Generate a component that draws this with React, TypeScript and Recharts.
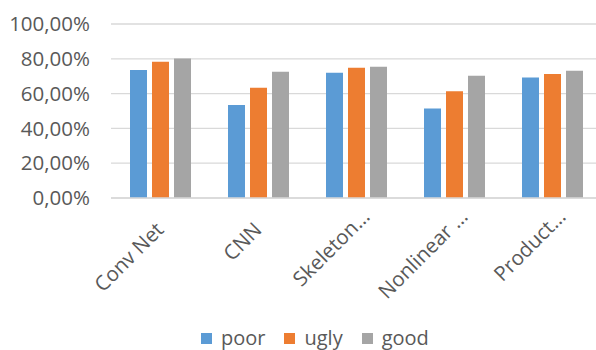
import React from "react";
import { BarChart, Bar, XAxis, YAxis, CartesianGrid, Legend } from "recharts";

const categories = ["Conv Net", "CNN", "Skeleton…", "Nonlinear …", "Product…"];
const poor = [0.735, 0.535, 0.72, 0.514, 0.693];
const ugly = [0.783, 0.634, 0.749, 0.613, 0.713];
const good = [0.802, 0.726, 0.754, 0.703, 0.731];
const yTicks = [0, 0.2, 0.4, 0.6, 0.8, 1];

const series = [
  { key: "poor", color: "#5B9BD5" },
  { key: "ugly", color: "#ED7D31" },
  { key: "good", color: "#A5A5A5" },
];

const data = categories.map((name, i) => ({
  name,
  poor: poor[i],
  ugly: ugly[i],
  good: good[i],
}));

const FONT = "'Open Sans', sans-serif";
const TEXT = "#595959";

const formatPct = (v: number) => `${(v * 100).toFixed(2).replace(".", ",")}%`;

// shortened names sit a little further up the slant
function SlantedTick({ x, y, payload }: any) {
  const cut = String(payload.value).endsWith("…");
  const dx = cut ? 15 : 5;
  const dy = cut ? 12 : 25;
  return (
    <g transform={`translate(${x + dx},${y + dy})`}>
      <text
        x={0}
        y={0}
        textAnchor="end"
        transform="rotate(-45)"
        fill={TEXT}
        fontSize={20.5}
        fontFamily={FONT}
      >
        {payload.value}
      </text>
    </g>
  );
}

function LegendRow() {
  return (
    <div style={{ display: "flex", alignItems: "center", fontFamily: FONT, fontSize: 20, color: TEXT, lineHeight: "24px" }}>
      {series.map((s) => (
        <div key={s.key} style={{ display: "flex", alignItems: "center", marginRight: 19 }}>
          <span style={{ width: 11, height: 11, background: s.color, marginRight: 9, display: "inline-block" }} />
          <span>{s.key}</span>
        </div>
      ))}
    </div>
  );
}

export default function App() {
  return (
    <div style={{ position: "absolute", left: 0, top: 0, width: 596, height: 350, overflow: "hidden", background: "#fff" }}>
      <BarChart
        width={601}
        height={350}
        data={data}
        margin={{ top: 24, right: 0, left: 0, bottom: 42 }}
        barCategoryGap="19%"
        barGap={5}
      >
        <CartesianGrid vertical={false} stroke="#d9d9d9" strokeWidth={1.3} />
        <XAxis
          dataKey="name"
          height={110}
          interval={0}
          tickLine={false}
          axisLine={{ stroke: "#d9d9d9", strokeWidth: 1.3 }}
          tick={<SlantedTick />}
        />
        <YAxis
          width={111}
          domain={[0, 1]}
          ticks={yTicks}
          tickFormatter={formatPct}
          axisLine={false}
          tickLine={false}
          tickSize={0}
          tickMargin={21}
          tick={{ fill: TEXT, fontSize: 20.5, fontFamily: FONT }}
        />
        <Legend
          layout="horizontal"
          verticalAlign="middle"
          align="center"
          wrapperStyle={{ top: 326, left: 201, width: "auto" }}
          content={() => <LegendRow />}
        />
        {series.map((s) => (
          <Bar key={s.key} dataKey={s.key} fill={s.color} barSize={17} isAnimationActive={false} />
        ))}
      </BarChart>
    </div>
  );
}
